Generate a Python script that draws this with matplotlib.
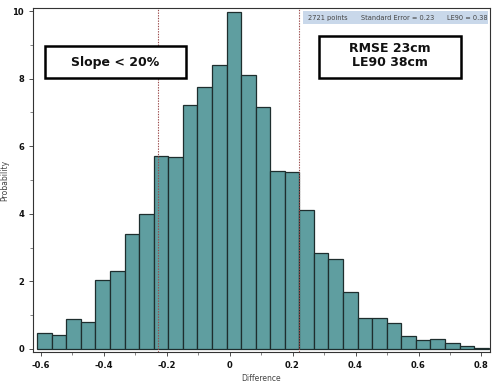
import numpy as np
import matplotlib.pyplot as plt
from matplotlib.patches import Rectangle

# Histogram: 31 bins from -0.611 to 0.823
bin_start = -0.611
bin_width = 0.04626
heights = [0.47, 0.40, 0.88, 0.80, 2.03, 2.32, 3.40, 3.99, 5.72, 5.67,
           7.21, 7.75, 8.39, 9.98, 8.12, 7.16, 5.28, 5.24, 4.11, 2.83,
           2.66, 1.68, 0.92, 0.92, 0.76, 0.39, 0.27, 0.28, 0.18, 0.08, 0.03]
limits = [-0.228, 0.221]
x_ticks = [-0.6, -0.4, -0.2, 0, 0.2, 0.4, 0.6, 0.8]
x_tick_labels = ["-0.6", "-0.4", "-0.2", "0", "0.2", "0.4", "0.6", "0.8"]
y_ticks = [0, 2, 4, 6, 8, 10]
info_texts = ["2721 points", "Standard Error = 0.23", "LE90 = 0.38"]

edges = bin_start + bin_width * np.arange(len(heights) + 1)

fig = plt.figure(figsize=(5, 3.83), dpi=100)
ax = fig.add_axes([0.066, 0.081, 0.914, 0.898])

ax.bar(edges[:-1], heights, width=bin_width, align="edge",
       color="#5F9EA0", edgecolor="#1e2e2e", linewidth=0.9)

for x in limits:
    ax.axvline(x, color="#9b4a4a", linestyle=(0, (1.2, 1.2)), linewidth=0.8)

ax.set_xlim(-0.624, 0.827)
ax.set_ylim(-0.09, 10.09)
ax.set_xticks(x_ticks)
ax.set_xticklabels(x_tick_labels)
ax.set_xticks(np.arange(-0.6, 0.85, 0.1), minor=True)
ax.set_yticks(y_ticks)
ax.set_yticks(np.arange(1, 10, 2), minor=True)
ax.tick_params(axis="both", which="major", labelsize=6, length=3, width=0.6,
               colors="#333333", labelcolor="#111111")
ax.tick_params(axis="both", which="minor", length=2, width=0.5, colors="#555555")
for lbl in ax.get_xticklabels() + ax.get_yticklabels():
    lbl.set_fontweight("bold")

for s in ax.spines.values():
    s.set_linewidth(0.8)
    s.set_color("#333333")

ax.set_xlabel("Difference", fontsize=5.5, color="#444444", labelpad=3)
ax.set_ylabel("Probability", fontsize=5.5, color="#444444", labelpad=2)

# info strip in the top right corner
ax.add_patch(Rectangle((0.591, 0.953), 0.405, 0.038, transform=ax.transAxes,
                       facecolor="#c9d8ea", edgecolor="none", zorder=3))
for xpos, txt in zip([0.602, 0.718, 0.906], info_texts):
    ax.text(xpos, 0.972, txt, transform=ax.transAxes, ha="left", va="center",
            fontsize=4.8, color="#444444", zorder=4)

# annotation boxes
ax.add_patch(Rectangle((0.026, 0.797), 0.309, 0.093, transform=ax.transAxes,
                       facecolor="white", edgecolor="black", linewidth=1.8, zorder=3))
ax.text(0.18, 0.843, "Slope < 20%", transform=ax.transAxes, ha="center", va="center",
        fontsize=9, fontweight="bold", color="#111111", zorder=4)

ax.add_patch(Rectangle((0.626, 0.797), 0.311, 0.122, transform=ax.transAxes,
                       facecolor="white", edgecolor="black", linewidth=1.8, zorder=3))
ax.text(0.781, 0.861, "RMSE 23cm\nLE90 38cm", transform=ax.transAxes, ha="center",
        va="center", fontsize=9, fontweight="bold", color="#111111",
        linespacing=1.1, zorder=4)

fig.savefig("out.png", dpi=100)
